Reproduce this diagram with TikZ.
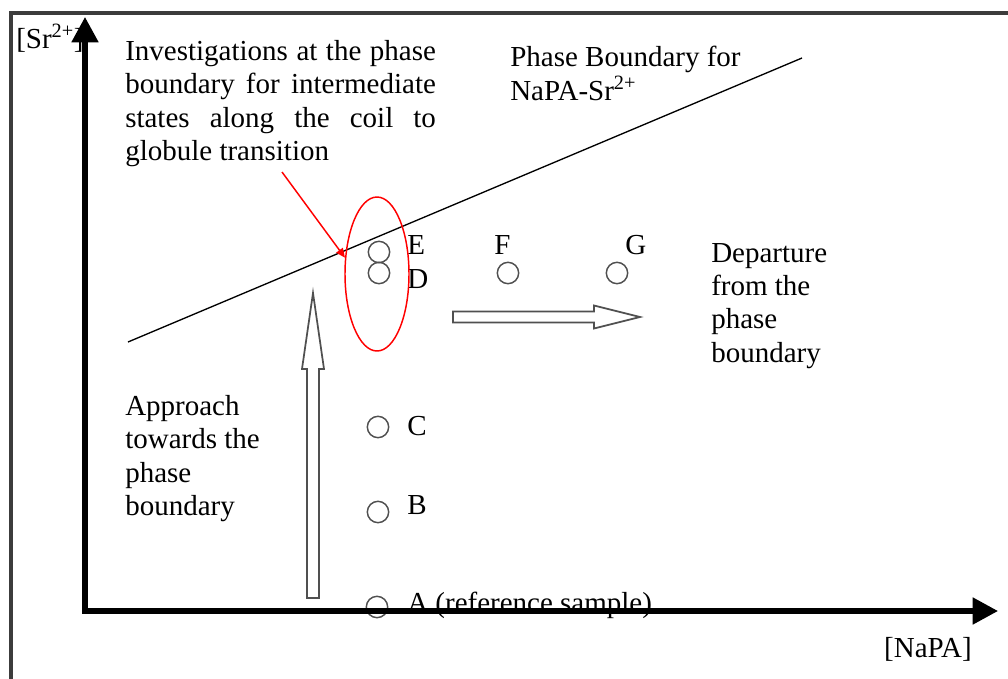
\documentclass[tikz,border=0pt]{standalone}
\usepackage{fontspec}
\setmainfont{Liberation Serif}
\usetikzlibrary{arrows.meta,shapes.geometric,positioning}
\definecolor{framegray}{RGB}{60,60,60}
\definecolor{ringgray}{RGB}{80,80,80}
\hyphenpenalty=10000

\begin{document}
\begin{tikzpicture}[x=0.75pt,y=-0.75pt,
  every node/.style={inner sep=0pt,font=\fontsize{21.75}{25}\selectfont},
  sample/.style={circle,draw=ringgray,line width=1.1pt,minimum size=16pt},
  note/.style={anchor=north west,align=left},
  tag/.style={anchor=base west},
  hollow/.style={draw=ringgray,fill=white,line width=1.3pt},
  axis/.style={line width=3.8pt,{Triangle[length=19pt,width=19.5pt]}-{Triangle[length=19pt,width=19.5pt]}}]
  \useasboundingbox (0,0) rectangle (1008,679);
  \draw[framegray,line width=3pt] (10.5,679) -- (10.5,13) -- (1008,13);

  % samples along the path
  \node[sample] (E) at (379,252) {};
  \node[sample] (D) at (379,273) {};
  \node[sample] (F) at (508,273) {};
  \node[sample] (G) at (617,273) {};
  \node[sample] (C) at (378,427) {};
  \node[sample] (B) at (378,512) {};
  \node[sample] (A) at (377,607) {};
  \node[tag] (Etag) at (407,254) {E};
  \node[tag] (Dtag) at (407,288) {D};
  \node[tag] (Ftag) at (494,254) {F};
  \node[tag] (Gtag) at (625,254) {G};
  \node[tag] (Ctag) at (407,435) {C};
  \node[tag] (Btag) at (407,514) {B};
  \node[tag] (Atag) at (407,612) {A (reference sample)};

  % phase boundary
  \coordinate (pb0) at (128,342);
  \coordinate (pb1) at (802,58);
  \draw[line width=1pt] (pb0) -- (pb1);
  \node[ellipse,draw=red,line width=1.1pt,minimum width=48pt,minimum height=115.5pt] (zone) at (377,274) {};
  \coordinate (hint) at (282,172);
  \draw[red,line width=1.1pt,-{Triangle[length=7pt,width=6pt]}] (hint) -- (zone.153);

  % texts
  \node[note,text width=233pt,align=justify] (inv) at (125,40)
    {Investigations at the phase boundary for intermediate states along the coil to globule transition};
  \node[note] (pbl) at (510,46) {Phase Boundary for\\NaPA-Sr\textsuperscript{2+}};
  \node[note] (dep) at (711,243) {Departure\\from the\\phase\\boundary};
  \node[note] (app) at (125,395) {Approach\\towards the\\phase\\boundary};
  \node[anchor=base east] (napa) at (972,657) {[NaPA]};
  \node[tag] (sr) at (16,48) {[Sr\textsuperscript{2+}]};

  % hollow arrows
  \draw[hollow] (453,311.5) -- (594,311.5) -- (594,305.5) -- (640,317)
    -- (594,328.5) -- (594,322.5) -- (453,322.5) -- cycle;
  \draw[hollow] (307,598) -- (307,369) -- (302,369) -- (313,293)
    -- (324,369) -- (319,369) -- (319,598) -- cycle;

  % axes
  \coordinate (O) at (85,611);
  \coordinate (ytip) at (85,17);
  \coordinate (xtip) at (998,611);
  \draw[axis] (ytip) -- (O) -- (xtip);
\end{tikzpicture}
\end{document}
